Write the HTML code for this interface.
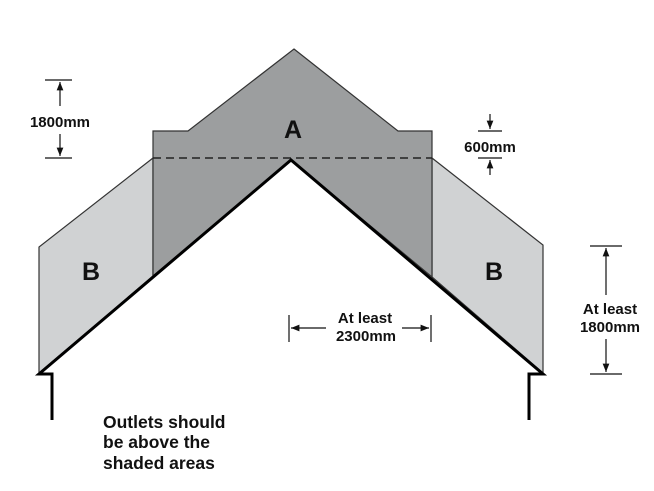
<!DOCTYPE html>
<html><head><style>
html,body{margin:0;padding:0;background:#fff;}
svg{display:block;}
text{font-family:"Liberation Sans",Arial,sans-serif;font-weight:bold;fill:#111;}
</style></head><body>
<svg width="654" height="491" viewBox="0 0 654 491" xmlns="http://www.w3.org/2000/svg">
<defs>
<marker id="ar" viewBox="0 0 10 10" refX="10" refY="5" markerWidth="7" markerHeight="7" orient="auto-start-reverse"><path d="M0,1 L10,5 L0,9 z" fill="#111"/></marker>
</defs>
<polygon points="153,158 39,247 39,373 153,276" fill="#d0d2d3" stroke="#333" stroke-width="1.2"/>
<polygon points="432,158 543,245 543,373 432,277" fill="#d0d2d3" stroke="#333" stroke-width="1.2"/>
<polygon points="294,49 398,131 432,131 432,277 291,160 153,276 153,131 188,131" fill="#9c9e9f" stroke="#333" stroke-width="1.2"/>
<line x1="153" y1="158" x2="432" y2="158" stroke="#222" stroke-width="1.6" stroke-dasharray="8,5"/>
<polyline points="52,420 52,374 39,374 291,160 543,374 529,374 529,420" fill="none" stroke="#000" stroke-width="3"/>
<text x="293" y="138" font-size="25" text-anchor="middle">A</text>
<text x="91" y="280" font-size="25" text-anchor="middle">B</text>
<text x="494" y="280" font-size="25" text-anchor="middle">B</text>
<g stroke="#111" stroke-width="1.2" fill="none">
<line x1="45" y1="80" x2="72" y2="80"/><line x1="45" y1="158" x2="72" y2="158"/>
<line x1="60" y1="106" x2="60" y2="82" marker-end="url(#ar)"/>
<line x1="60" y1="134" x2="60" y2="156" marker-end="url(#ar)"/>
<line x1="478" y1="131" x2="502" y2="131"/><line x1="478" y1="158" x2="502" y2="158"/>
<line x1="490" y1="114" x2="490" y2="129" marker-end="url(#ar)"/>
<line x1="490" y1="175" x2="490" y2="160" marker-end="url(#ar)"/>
<line x1="590" y1="246" x2="622" y2="246"/><line x1="590" y1="374" x2="622" y2="374"/>
<line x1="606" y1="295" x2="606" y2="248" marker-end="url(#ar)"/>
<line x1="606" y1="339" x2="606" y2="372" marker-end="url(#ar)"/>
<line x1="289" y1="315" x2="289" y2="342"/><line x1="431" y1="315" x2="431" y2="342"/>
<line x1="326" y1="328" x2="291" y2="328" marker-end="url(#ar)"/>
<line x1="402" y1="328" x2="429" y2="328" marker-end="url(#ar)"/>
</g>
<text x="60" y="127" font-size="15" text-anchor="middle">1800mm</text>
<text x="490" y="152" font-size="15" text-anchor="middle">600mm</text>
<text x="610" y="314" font-size="15" text-anchor="middle">At least</text>
<text x="610" y="332" font-size="15" text-anchor="middle">1800mm</text>
<text x="365" y="323" font-size="15" text-anchor="middle">At least</text>
<text x="366" y="341" font-size="15" text-anchor="middle">2300mm</text>
<text x="103" y="428" font-size="17.5">Outlets should</text>
<text x="103" y="448" font-size="17.5">be above the</text>
<text x="103" y="469" font-size="17.5">shaded areas</text>
</svg>
</body></html>
